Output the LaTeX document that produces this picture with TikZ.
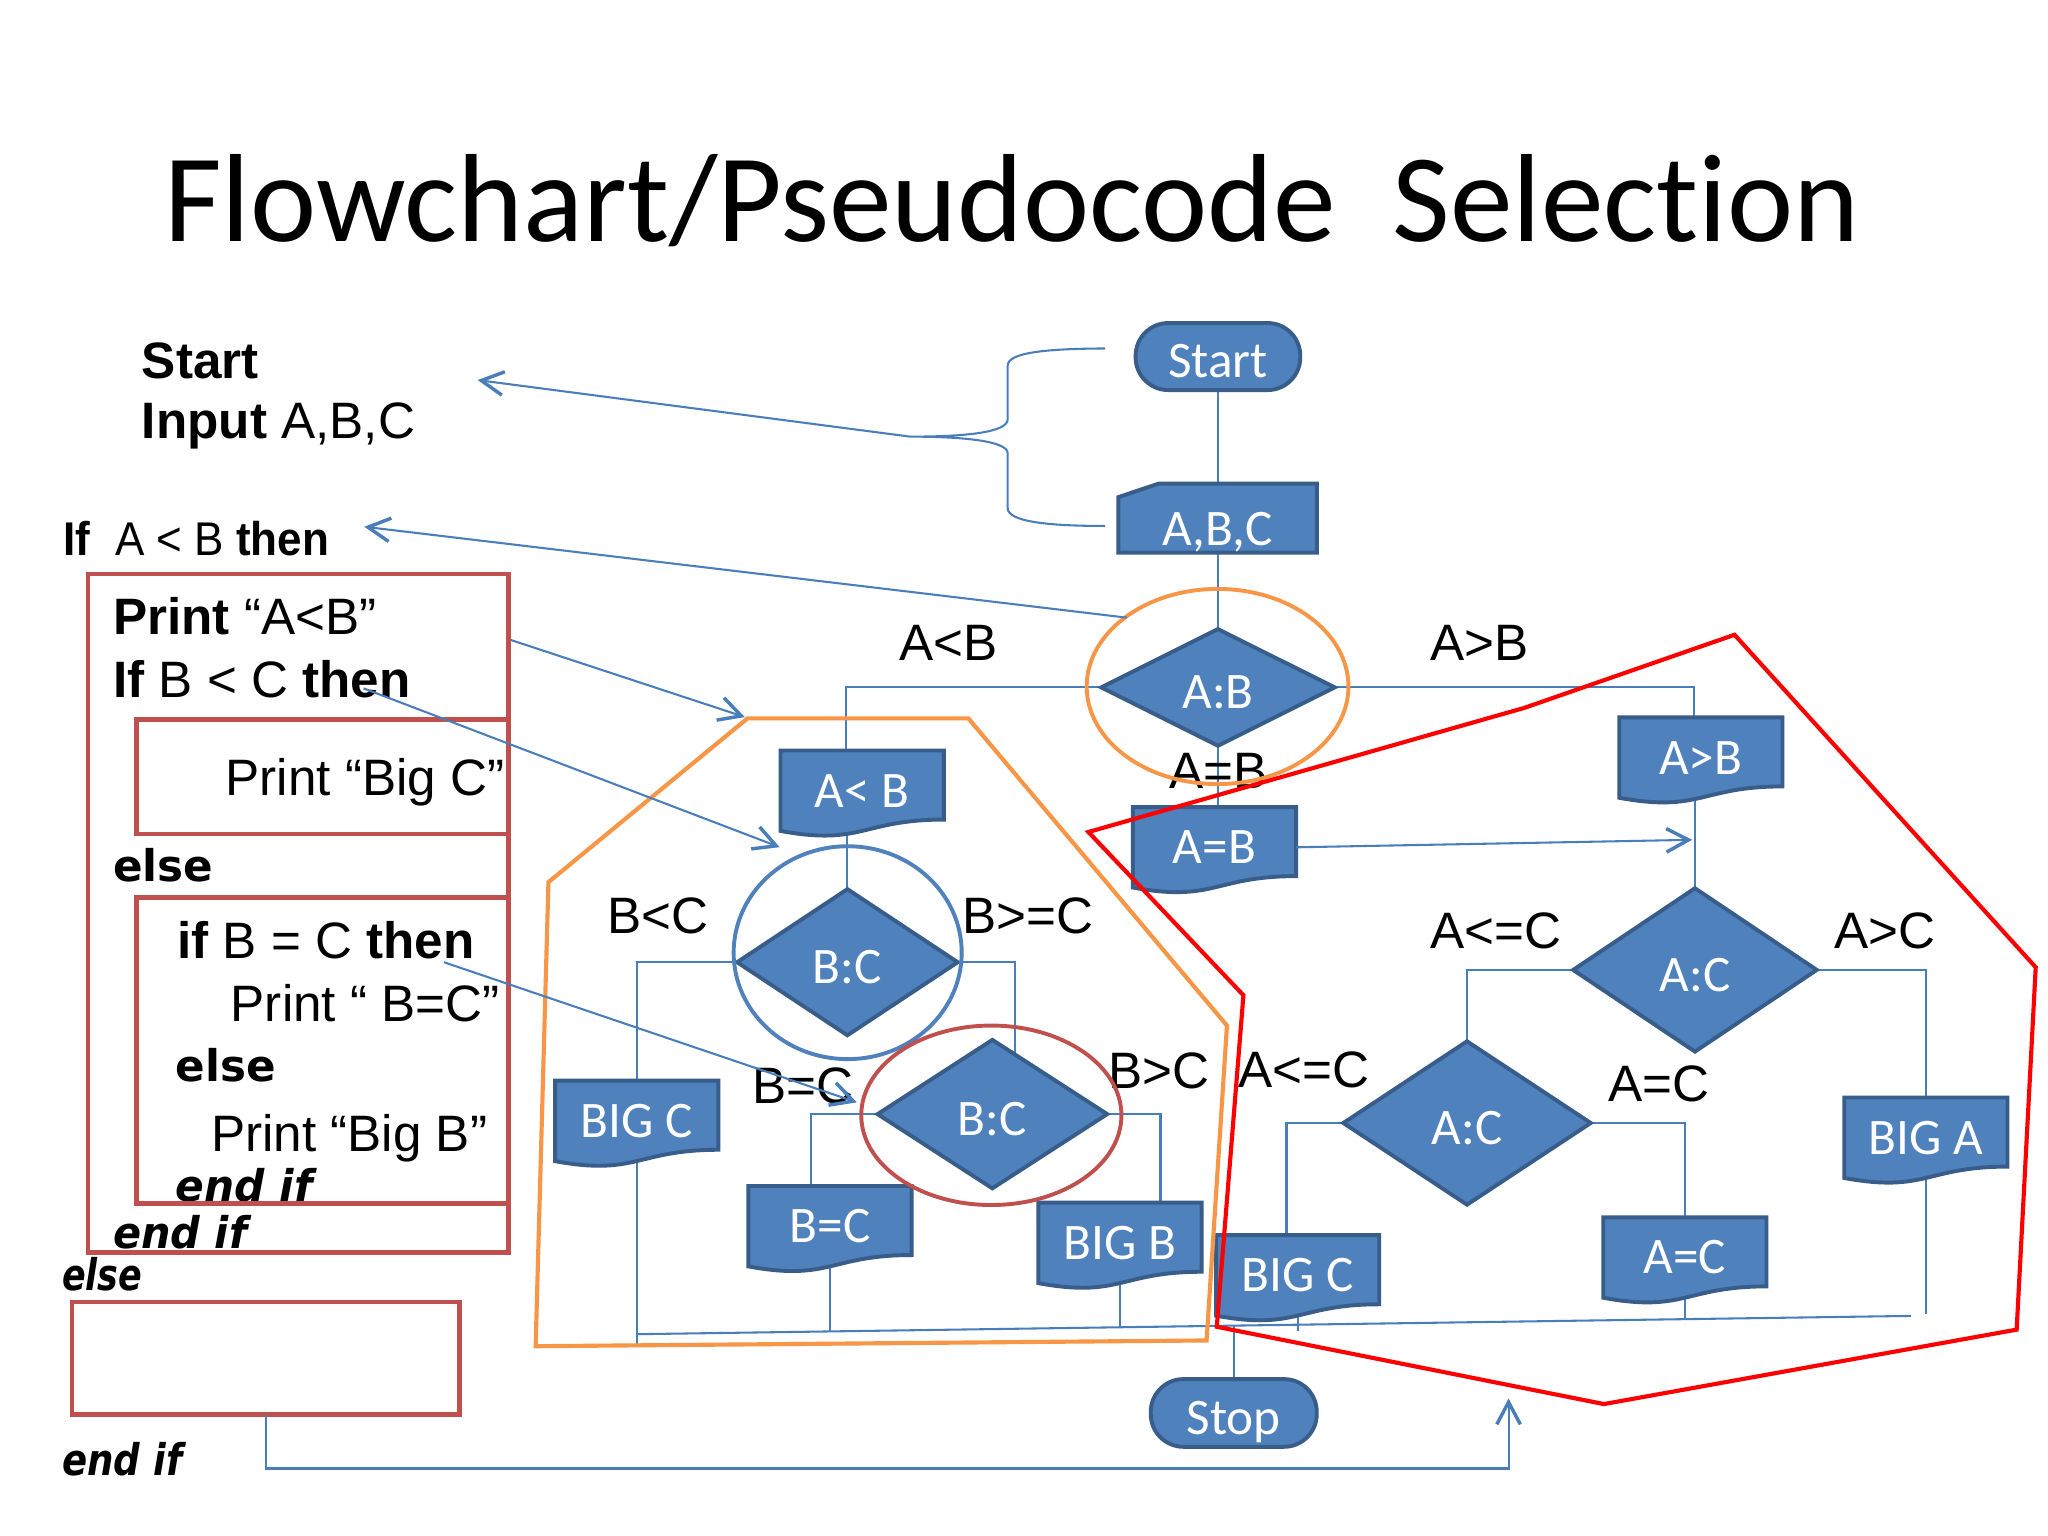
\documentclass[tikz,border=0pt]{standalone}
\usepackage{fontspec}
\setmainfont{Liberation Sans}
\newfontfamily\calfont{Carlito}[Ligatures={NoCommon}]
\newfontfamily\dvfont{DejaVu Sans}[BoldFont={DejaVu Sans Bold},BoldItalicFont={DejaVu Sans Bold Oblique},ItalicFont={DejaVu Sans Oblique}]
\usetikzlibrary{shapes.geometric,arrows.meta,calc}
\pgfdeclarelayer{bg}
\pgfsetlayers{bg,main}
\definecolor{nfill}{HTML}{4F81BD}
\definecolor{nline}{HTML}{385D8A}
\definecolor{cline}{HTML}{4A7EBB}
\definecolor{boxred}{HTML}{C0504D}
\definecolor{orng}{HTML}{F79646}
\newcommand\docshape[4]{%
  \path[docpath,shift={(#2,#3)}] (0,0) -- (125,0) -- (125,52.9) .. controls (62.5,52.9) and (62.5,73.1) .. (0,61.6) -- cycle;
  \node[doctext,anchor=north] (#1) at (#2+62.5,#3) {#4};}
\begin{document}
\begin{tikzpicture}[x=0.01cm,y=-0.01cm,
  lbl/.style={inner sep=0,font=\fontsize{11.15}{13.4}\selectfont},
  code/.style={anchor=base west,inner sep=0,font=\fontsize{11.15}{13.4}\selectfont},
  kw/.style={anchor=base west,inner sep=0,font=\dvfont\bfseries\fontsize{9.5}{11}\selectfont},
  kwi/.style={anchor=base west,inner sep=0,font=\dvfont\bfseries\itshape\fontsize{9.5}{11}\selectfont},
  term/.style={draw=nline,fill=nfill,line width=0.85pt,rounded corners=0.25cm,inner sep=0,outer sep=0,text=white,text height=9.2pt,text depth=0pt,font=\calfont\fontsize{11.15}{13.4}\selectfont},
  dia/.style={diamond,draw=nline,fill=nfill,line width=0.85pt,inner sep=0,outer sep=0,text=white,text height=9.2pt,text depth=0pt,font=\calfont\fontsize{11.15}{13.4}\selectfont},
  docpath/.style={draw=nline,fill=nfill,line width=0.85pt},
  doctext/.style={inner sep=0,outer sep=0,minimum width=1.25cm,minimum height=0.616cm,text=white,font=\calfont\fontsize{11.15}{13.4}\selectfont},
  redbox/.style={draw=boxred,line width=1pt,inner sep=0,outer sep=0},
  cn/.style={draw=cline,line width=0.45pt},
  pointer/.style={draw=cline,line width=0.45pt,-{Straight Barb[length=1.7mm,width=1.8mm,line width=0.75pt]}},
  hull/.style={line width=0.9pt,line join=miter}]
\begin{pgfonlayer}{bg}
\fill[white] (0,0) rectangle (1568,1176);
\end{pgfonlayer}
\useasboundingbox (0,0) rectangle (1568,1176);

% title
\node[anchor=base west,inner sep=0,font=\calfont\fontsize{27.3}{32}\selectfont] (title) at (125,185) {Flowchart/Pseudocode\ \ Selection};

% pseudocode
\node[code] (p1) at (108,290) {\textbf{Start}};
\node[code] (p2) at (108,336) {\textbf{Input} A,B,C};
\node[code,font=\fontsize{10.3}{12}\selectfont] (p3) at (48,425) {\scalebox{0.93}[1]{\textbf{If}\ \ A < B \textbf{then}}};
\node[code] (p4) at (86,486) {\textbf{Print} “A<B”};
\node[code] (p5) at (86,534) {\textbf{If} B < C \textbf{then}};
\node[code] (p6) at (172,609) {Print “Big C”};
\node[kw] (p7) at (86,675) {else};
\node[code] (p8) at (135,734) {\textbf{if} B = C \textbf{then}};
\node[code] (p9) at (176,782) {Print “ B=C”};
\node[kw] (p10) at (134,828) {else};
\node[code] (p11) at (161,882) {Print “Big B”};
\node[kwi] (p12) at (134,920) {\scalebox{0.97}[1]{end if}};
\node[kwi] (p13) at (86,956) {\scalebox{0.95}[1]{end if}};
\node[kwi] (p14) at (47,988) {\scalebox{0.8}[1]{else}};
\node[kwi] (p15) at (47,1130) {\scalebox{0.85}[1]{end if}};

\node[redbox,minimum width=3.217cm,minimum height=5.191cm] (box1) at (228.25,699.05) {};
\node[redbox,minimum width=2.845cm,minimum height=0.877cm] (box2) at (246.85,594.65) {};
\node[redbox,minimum width=2.845cm,minimum height=2.338cm] (box3) at (246.85,804.3) {};
\node[redbox,minimum width=2.965cm,minimum height=0.863cm] (box4) at (203.35,1039.95) {};

% flowchart nodes
\node[term,minimum width=1.26cm,minimum height=0.513cm] (start) at (932.5,273) {Start};
\path[docpath] (856.3,380.6) -- (887,370.3) -- (1008.2,370.3) -- (1008.2,423.1) -- (856.3,423.1) -- cycle;
\node[inner sep=0,outer sep=0,minimum width=1.52cm,minimum height=0.31cm,text=white,font=\calfont\fontsize{11.15}{13.4}\selectfont] (abc) at (932.5,407.5) {A,B,C};
\node[dia,minimum width=1.787cm,minimum height=0.893cm] (ab) at (932.5,526.3) {A:B};
\docshape{altb}{597.6}{574.6}{A< B}
\docshape{agtb}{1239.7}{549.2}{A>B}
\docshape{aeqb}{867.3}{617.9}{A=B}
\node[dia,minimum width=1.688cm,minimum height=1.118cm] (bc1) at (648.8,736.7) {B:C};
\node[dia,minimum width=1.757cm,minimum height=1.136cm] (bc2) at (759.8,853) {B:C};
\node[dia,minimum width=1.864cm,minimum height=1.25cm] (ac1) at (1297.7,742.6) {A:C};
\node[dia,minimum width=1.893cm,minimum height=1.25cm] (ac2) at (1123.2,859.8) {A:C};
\docshape{bigc1}{425}{827.4}{BIG C}
\docshape{beqc}{573}{908}{B=C}
\docshape{bigb}{795}{920.8}{BIG B}
\docshape{bigc2}{931}{945.7}{BIG C}
\docshape{aeqc}{1227.5}{932}{A=C}
\docshape{biga}{1412}{840.3}{BIG A}
\node[term,minimum width=1.27cm,minimum height=0.518cm] (stop) at (944.6,1081.8) {Stop};

% branch labels
\node[lbl] (lab) at (726,492) {A<B};
\node[lbl] (lagb) at (1133,492) {A>B};
\node[lbl] (laeb) at (933,590) {A=B};
\node[lbl] (lbltc) at (504,701) {B<C};
\node[lbl] (lbgec) at (787,701) {B>=C};
\node[lbl] (lbeqc) at (615,831) {B=C};
\node[lbl] (lbgtc) at (887,820) {B>C};
\node[lbl] (lalec1) at (1145,713) {A<=C};
\node[lbl] (lagtc) at (1443,713) {A>C};
\node[lbl] (lalec2) at (998,819) {A<=C};
\node[lbl] (laeqc) at (1270,830) {A=C};

% coordinates
\coordinate (mL) at (487.5,1021.5);
\coordinate (mR) at (1463,1007.5);
\coordinate (bt) at (846.1,266.8);
\coordinate (bb) at (846.1,402.7);
\coordinate (btip) at (696.8,334.3);
\coordinate (t1) at (365.7,291);
\coordinate (s2) at (862.7,472.9);
\coordinate (t2) at (278.9,403.3);
\coordinate (s3) at (391.1,490);
\coordinate (t3) at (570.3,549);
\coordinate (s4) at (278.3,527);
\coordinate (t4) at (596.9,648.6);
\coordinate (s5) at (339.9,736.7);
\coordinate (t5) at (656,844);
\coordinate (t6) at (1295.6,643);
\coordinate (t7) at (1155,1070.7);

\begin{pgfonlayer}{bg}
\draw[cn] (start.south) -- (abc.north);
\draw[cn] (abc.south) -- (ab.north);
\draw[cn] (ab.west) -| ($(altb.north)+(-12.3,0)$);
\draw[cn] (ab.east) -| ($(agtb.north)+(-5,0)$);
\draw[cn] (ab.south) -- (ab.south |- aeqb.north);
\draw[cn] (bc1.north |- altb.south) -- (bc1.north);
\draw[cn] (ac1.north |- agtb.south) -- (ac1.north);
\draw[cn] (bc1.west) -| (bigc1.north);
\draw[cn] (bc1.east) -| ($(bc2.north)+(17.5,20)$);
\draw[cn] (bc2.west) -| ($(beqc.north)+(-14.5,0)$);
\draw[cn] (bc2.east) -| ($(bigb.north)+(31,0)$);
\draw[cn] (ac1.west) -| (ac2.north);
\draw[cn] (ac1.east) -| (biga.north);
\draw[cn] (ac2.west) -| ($(bigc2.north)+(-8.5,0)$);
\draw[cn] (ac2.east) -| (aeqc.north);
\draw[cn] (mL) -- (mR);
\draw[cn] (bigc1.south) -- ++(0,141.7);
\draw[cn] (beqc.south) -- ++(0,49.8);
\draw[cn] (bigb.south) -- ++(0,33.8);
\draw[cn] (bigc2.south) -- ++(0,12);
\draw[cn] (aeqc.south) -- ++(0,16.4);
\draw[cn] (biga.south) -- ++(0,104);
\draw[cn] (stop.north |- 0,1014.9) -- (stop.north);
\end{pgfonlayer}

% group outlines
\draw[orng,line width=0.85pt] (932.2,525.6) ellipse [x radius=100.2, y radius=74.7];
\draw[nfill,line width=0.85pt] (649,729.4) ellipse [x radius=87.3, y radius=81.5];
\draw[boxred,line width=0.85pt] (759,853.9) ellipse [x radius=99.6, y radius=68.7];
\draw[orng,hull] (572.3,550) -- (741.4,550) -- (939.4,785.2) -- (923.8,1026.3) -- (410.1,1030.7) -- (419.9,675.4) -- cycle;
\draw[red,hull] (833.3,637) -- (1167,542) -- (1328,486) -- (1558.6,740.6) -- (1544,1018) -- (1228,1075) -- (931.6,1015.8) -- (952,762) -- cycle;

% brace and pointers
\draw[cn] (bt) .. controls (800,267) and (771.5,270) .. (771.5,280) -- (771.5,321) .. controls (771.5,331) and (740,334.3) .. (btip) .. controls (740,334.3) and (771.5,338) .. (771.5,347) -- (771.5,389) .. controls (771.5,399) and (800,402.7) .. (bb);
\draw[pointer] (btip) -- (t1);
\draw[pointer] (s2) -- (t2);
\draw[pointer] (s3) -- (t3);
\draw[pointer] (s4) -- (t4);
\draw[pointer] (s5) -- (t5);
\draw[pointer] (aeqb.east) -- (t6);
\draw[pointer] (box4.south) -- (box4.south |- 0,1124.3) -| (t7);
\end{tikzpicture}
\end{document}
